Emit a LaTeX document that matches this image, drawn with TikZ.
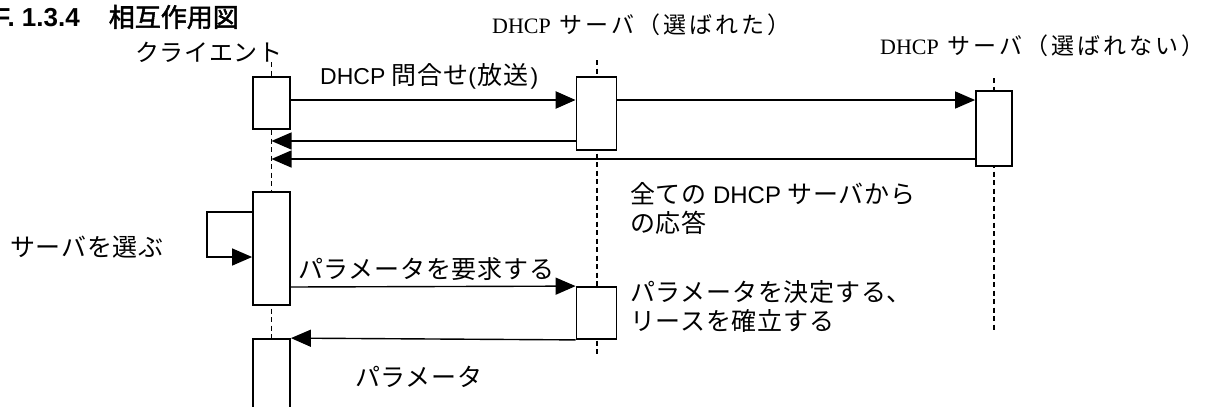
\documentclass[tikz,border=0pt]{standalone}
\usepackage{fontspec}
\setmainfont{Liberation Serif}
\newfontfamily\jp[LetterSpace=3]{Noto Sans CJK JP}
\newfontfamily\jpw[LetterSpace=13]{Noto Sans CJK JP}
\newfontfamily\jpt[FakeBold=2]{Noto Sans CJK JP}
\newfontfamily\lsans{Liberation Sans}
\newfontfamily\lser{Liberation Serif}
\usetikzlibrary{arrows.meta}
\tikzset{
  life/.style={line width=1.8pt, dash pattern=on 5pt off 3.5pt},
  actbox/.style={draw, line width=1.8pt, fill=white, inner sep=0pt},
  msg/.style={line width=1.4pt, -{Triangle[length=20pt,width=17pt]}},
  lbl/.style={inner sep=0pt, anchor=west, font=\fontsize{25}{28}\selectfont\jp},
  lbl2/.style={inner sep=0pt, anchor=west, align=left, font=\fontsize{25}{29}\selectfont\jp},
  srv/.style={inner sep=0pt, anchor=west, font=\fontsize{23}{28}\selectfont\jpw}
}
\begin{document}
\begin{tikzpicture}[x=1pt,y=-1pt]
\useasboundingbox (0,0) rectangle (1213,407);
% lifelines
\coordinate (cltop) at (271.5,62);
\coordinate (clbot) at (271.5,415);
\coordinate (s1top) at (597,60);
\coordinate (s1bot) at (597,357);
\coordinate (s2top) at (994,78);
\coordinate (s2bot) at (994,330);
\draw[life] (cltop) -- (clbot);
\draw[life] (s1top) -- (s1bot);
\draw[life] (s2top) -- (s2bot);
% activation boxes
\node[actbox, minimum width=37pt, minimum height=52pt] (c1) at (271.5,103) {};
\node[actbox, minimum width=37pt, minimum height=113pt] (c2) at (271.5,248.5) {};
\node[actbox, minimum width=37pt, minimum height=76pt] (c3) at (271.5,377) {};
\node[actbox, minimum width=40pt, minimum height=73pt] (s1a) at (596.5,113.5) {};
\node[actbox, minimum width=40pt, minimum height=52pt] (s1b) at (596.5,313) {};
\node[actbox, minimum width=36pt, minimum height=75pt] (s2) at (994,128.5) {};
% messages
\draw[msg, line width=2.4pt] (c1.east |- 0,100) -- (s1a.west |- 0,100);
\draw[msg] (s1a.east |- 0,100) -- (s2.west |- 0,100);
\draw[msg] (s1a.west |- 0,141) -- (c1.south |- 0,141);
\draw[msg] (s2.west |- 0,159) -- (c1.south |- 0,159);
\draw[msg] (c2.west |- 0,212) -- ++(-45,0) |- (c2.west |- 0,257);
\draw[msg] (c2.east |- 0,287) -- (s1b.north west);
\draw[msg] (s1b.south west) -- (c3.north east);
% title
\node[inner sep=0pt, anchor=east] (title) at (239,17)
  {\fontsize{26}{30}\selectfont{\lsans\bfseries F. 1.3.4}\hspace{29pt}{\jpt 相互作用図}};
% lifeline labels
\node[lbl, font=\fontsize{24}{28}\selectfont\jp] (lc) at (135,52) {クライエント};
\node[srv] (l1) at (492,25) {{\lser\fontsize{22}{26}\selectfont DHCP}\hspace{9pt}サーバ（選ばれた）};
\node[srv] (l2) at (880,46) {{\lser\fontsize{22}{26}\selectfont DHCP}\hspace{9pt}サーバ（選ばれない）};
% message labels
\node[lbl] (m1) at (320,76) {{\lsans\fontsize{23}{28}\selectfont DHCP }問合せ{\lsans\fontsize{23}{28}\selectfont (}\hspace{2pt}放送\hspace{2pt}{\lsans\fontsize{23}{28}\selectfont )}};
\node[lbl2] (m2) at (630,208.5) {全ての {\lsans\fontsize{24}{28}\selectfont DHCP} サーバから\\の応答};
\node[lbl] (m3) at (10,247) {サーバを選ぶ};
\node[lbl] (m4) at (298,269) {パラメータを要求する};
\node[lbl2] (m5) at (630,306) {パラメータを決定する、\\リースを確立する};
\node[lbl] (m6) at (355,377) {パラメータ};
\end{tikzpicture}
\end{document}
